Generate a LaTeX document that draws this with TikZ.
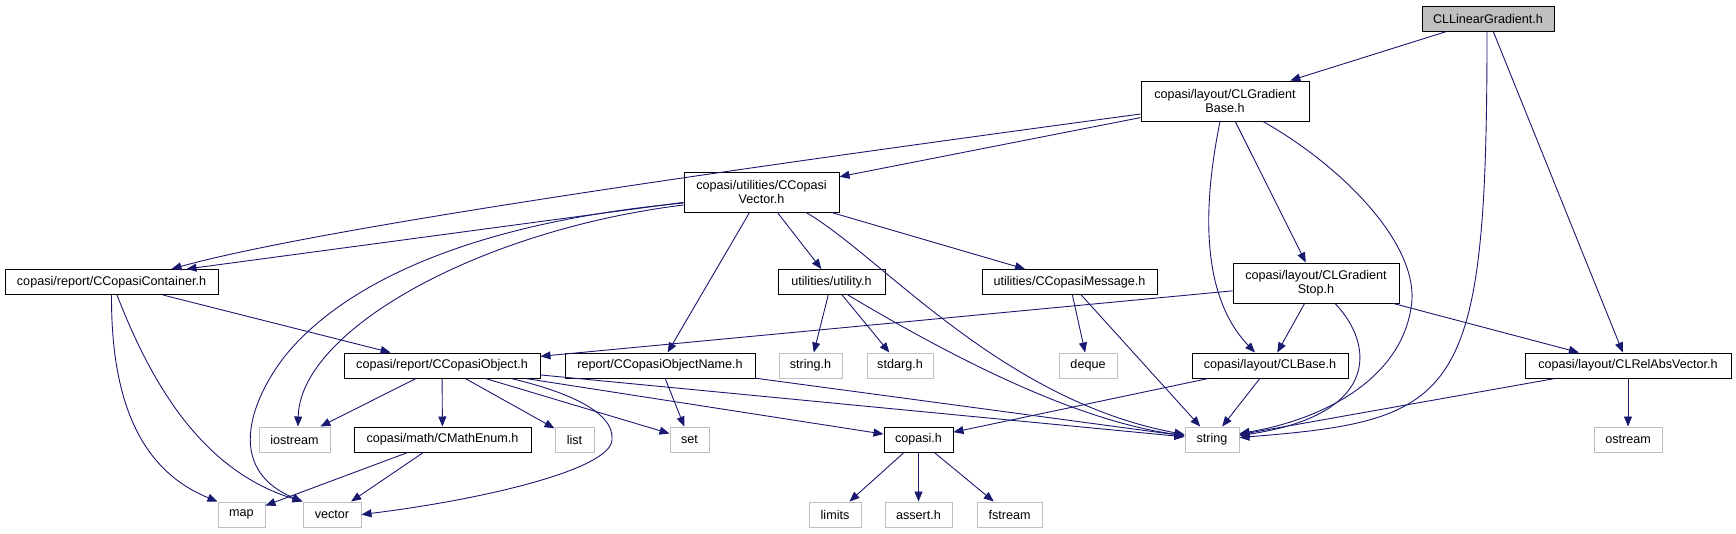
\documentclass[tikz,border=0pt]{standalone}
\usepackage{fontspec}
\setmainfont{Liberation Sans}
\usetikzlibrary{arrows.meta,positioning}
\definecolor{edgeBlue}{HTML}{191970}
\definecolor{sysGray}{HTML}{BFBFBF}

\begin{document}
\begin{tikzpicture}[
    x=1pt, y=-1pt,
    font=\fontsize{12.6}{14}\selectfont,
    hdr/.style={draw=black, line width=1pt, fill=white, inner sep=0pt, minimum height=25pt, align=center},
    sys/.style={draw=sysGray, line width=1pt, fill=white, inner sep=0pt, minimum height=25pt},
    cur/.style={hdr, fill=sysGray},
    dep/.style={-{Triangle[length=10pt,width=8pt]}, edgeBlue, line width=0.9pt}
]
    \useasboundingbox (0,0) rectangle (1736,533);

    % headers
    \node[cur, minimum width=132pt] (root) at (1488,18.5) {CLLinearGradient.h};
    \node[hdr, minimum width=168pt, minimum height=40pt] (gb) at (1225,101) {copasi/layout/CLGradient\\Base.h};
    \node[hdr, minimum width=155pt, minimum height=40pt] (vec) at (761.5,192) {copasi/utilities/CCopasi\\Vector.h};
    \node[hdr, minimum width=213pt] (cont) at (111.5,282) {copasi/report/CCopasiContainer.h};
    \node[hdr, minimum width=107pt] (utility) at (831.5,282) {utilities/utility.h};
    \node[hdr, minimum width=175pt] (msg) at (1069.5,282) {utilities/CCopasiMessage.h};
    \node[hdr, minimum width=166pt, minimum height=40pt] (stop) at (1316,283) {copasi/layout/CLGradient\\Stop.h};
    \node[hdr, minimum width=196pt] (obj) at (442,365.5) {copasi/report/CCopasiObject.h};
    \node[hdr, minimum width=190pt] (objname) at (660,365.5) {report/CCopasiObjectName.h};
    \node[hdr, minimum width=156pt] (clbase) at (1270,365.5) {copasi/layout/CLBase.h};
    \node[hdr, minimum width=206pt] (relabs) at (1628,365.5) {copasi/layout/CLRelAbsVector.h};
    \node[hdr, minimum width=177pt] (mathenum) at (442.5,439.5) {copasi/math/CMathEnum.h};
    \node[hdr, minimum width=69pt] (copasih) at (918.5,439.5) {copasi.h};

    % system headers
    \node[sys, minimum width=63pt] (stringh) at (810.5,365.5) {string.h};
    \node[sys, minimum width=66pt] (stdarg) at (900,365.5) {stdarg.h};
    \node[sys, minimum width=58pt] (deque) at (1088,365.5) {deque};
    \node[sys, minimum width=71pt] (iostream) at (294.5,439.5) {iostream};
    \node[sys, minimum width=39pt] (list) at (574.5,439.5) {list};
    \node[sys, minimum width=39pt] (set) at (689.5,439.5) {set};
    \node[sys, minimum width=54pt] (string) at (1212,439.5) {string};
    \node[sys, minimum width=68pt] (ostream) at (1628,439.5) {ostream};
    \node[sys, minimum width=47pt] (map) at (241.5,514.5) {map};
    \node[sys, minimum width=58pt] (vector) at (332,514.5) {vector};
    \node[sys, minimum width=52pt] (limits) at (835,514.5) {limits};
    \node[sys, minimum width=67pt] (assert) at (918.5,514.5) {assert.h};
    \node[sys, minimum width=65pt] (fstream) at (1009.5,514.5) {fstream};

    % straight includes
    \draw[dep] (root) -- (gb);
    \draw[dep] (root) -- (relabs);
    \draw[dep] (gb) -- (vec);
    \draw[dep] (gb) -- (stop);
    \draw[dep] (vec) -- ([xshift=75pt]cont.north);
    \draw[dep] (vec) -- (objname);
    \draw[dep] (vec) -- (utility);
    \draw[dep] (vec) -- (msg);
    \draw[dep] (cont) -- (obj);
    \draw[dep] (stop) -- (obj);
    \draw[dep] (stop) -- (clbase);
    \draw[dep] (stop) -- (relabs);
    \draw[dep] (objname) -- (set);
    \draw[dep] (objname) -- (string);
    \draw[dep] (obj) -- (iostream);
    \draw[dep] (obj) -- (mathenum);
    \draw[dep] (obj) -- (list);
    \draw[dep] (obj) -- (set);
    \draw[dep] (obj) -- (copasih);
    \draw[dep] (obj) -- (string);
    \draw[dep] (mathenum) -- (map);
    \draw[dep] (mathenum) -- (vector);
    \draw[dep] (utility) -- (stringh);
    \draw[dep] (utility) -- (stdarg);
    \draw[dep] (msg) -- (deque);
    \draw[dep] (msg) -- (string);
    \draw[dep] (clbase) -- (string);
    \draw[dep] (clbase) -- (copasih);
    \draw[dep] (relabs) -- (string);
    \draw[dep] (relabs) -- (ostream);
    \draw[dep] (copasih) -- (limits);
    \draw[dep] (copasih) -- (assert);
    \draw[dep] (copasih) -- (fstream);

    % curved includes
    \draw[dep] ([yshift=-13pt]gb.west) .. controls (800,160) and (330,225) .. ([xshift=60pt]cont.north);
    \draw[dep] ([yshift=-11pt]vec.west) .. controls (500,220) and (360,270) .. (290,350)
        .. controls (262,382) and (215,465) .. (vector.north west);
    \draw[dep] ([yshift=-13pt]vec.west) .. controls (480,230) and (300,330) .. ([xshift=3.5pt]iostream.north);
    \draw[dep] ([xshift=44.5pt]vec.south) .. controls (880,255) and (1000,400) .. ([yshift=5pt]string.west);
    \draw[dep] (cont.south) .. controls (111,400) and (140,470) .. (map.north west);
    \draw[dep] ([xshift=5.5pt]cont.south) .. controls (150,380) and (200,470) .. (vector.north west);
    \draw[dep] ([xshift=69pt]obj.south) .. controls (560,390) and (615,410) .. (612,440)
        .. controls (610,470) and (480,500) .. (vector.east);
    \draw[dep] ([xshift=16.5pt]utility.south) .. controls (940,350) and (1070,420) .. ([yshift=4pt]string.west);
    \draw[dep] ([xshift=-5pt]gb.south) .. controls (1200,220) and (1205,300) .. ([xshift=-15pt]clbase.north);
    \draw[dep] ([xshift=38pt]gb.south) .. controls (1340,165) and (1415,240) .. (1412,300)
        .. controls (1405,380) and (1320,420) .. ([yshift=6pt]string.east);
    \draw[dep] ([xshift=19pt]stop.south) .. controls (1375,345) and (1380,415) .. ([yshift=4pt]string.east);
    \draw[dep] ([xshift=-1pt]root.south) .. controls (1487,400) and (1460,420) .. ([yshift=2pt]string.east);
\end{tikzpicture}
\end{document}
